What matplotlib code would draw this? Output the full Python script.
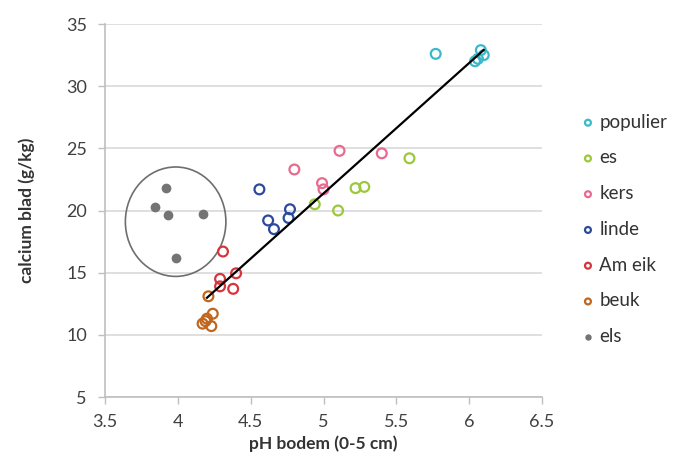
import matplotlib
matplotlib.use('Agg')
import matplotlib.pyplot as plt
from matplotlib.patches import Ellipse
import numpy as np

plt.rcParams['font.family'] = ['Lato', 'DejaVu Sans']

# pH bodem / calcium blad per boomsoort
populier_ph = [5.77, 6.04, 6.08, 6.10, 6.06]
populier_ca = [32.6, 32.0, 32.9, 32.5, 32.2]
es_ph = [5.59, 4.94, 5.10, 5.22, 5.28]
es_ca = [24.2, 20.5, 20.0, 21.8, 21.9]
kers_ph = [4.80, 5.11, 5.40, 4.99, 5.00]
kers_ca = [23.3, 24.8, 24.6, 22.2, 21.7]
linde_ph = [4.56, 4.62, 4.66, 4.77, 4.76]
linde_ca = [21.7, 19.2, 18.5, 20.1, 19.4]
ameik_ph = [4.31, 4.29, 4.29, 4.38, 4.40]
ameik_ca = [16.7, 14.5, 13.9, 13.7, 14.95]
beuk_ph = [4.21, 4.19, 4.17, 4.24, 4.23, 4.20]
beuk_ca = [13.1, 11.1, 10.9, 11.7, 10.7, 11.3]
els_ph = [3.92, 3.84, 3.93, 4.17, 3.99]
els_ca = [21.8, 20.3, 19.6, 19.7, 16.2]

groups = [
    ('populier', populier_ph, populier_ca, '#3cb9c9'),
    ('es', es_ph, es_ca, '#9cc83c'),
    ('kers', kers_ph, kers_ca, '#e96a90'),
    ('linde', linde_ph, linde_ca, '#2b4a9c'),
    ('Am eik', ameik_ph, ameik_ca, '#d8343c'),
    ('beuk', beuk_ph, beuk_ca, '#c0661f'),
]

fig = plt.figure(figsize=(6.83, 4.70), dpi=100)
ax = fig.add_axes([0.1537, 0.1553, 0.6399, 0.7936])

for name, xs, ys, col in groups:
    ax.scatter(xs, ys, s=50, facecolors='none', edgecolors=col,
               linewidths=1.6, label=name, zorder=3)
ax.scatter(els_ph, els_ca, s=36, color='#747474', label='els', zorder=3)

# trendlijn door alle soorten behalve els
all_x = np.concatenate([g[1] for g in groups])
all_y = np.concatenate([g[2] for g in groups])
a, b = np.polyfit(all_x, all_y, 1)
xl = np.array([min(beuk_ph) + 0.03, max(populier_ph)])
ax.plot(xl, a * xl + b, color='black', lw=1.6, zorder=4)

ell = Ellipse((3.985, 19.1), 0.69, 8.8, fill=False, edgecolor='#6e6e6e',
              lw=1.2, zorder=2)
ax.add_patch(ell)

ax.set_xlim(3.5, 6.5)
ax.set_ylim(5, 35)
ax.set_xticks(np.arange(3.5, 6.51, 0.5))
ax.set_xticklabels(['3.5', '4', '4.5', '5', '5.5', '6', '6.5'])
ax.set_yticks(np.arange(5, 36, 5))
ax.yaxis.grid(True, color='#d9d9d9', lw=1.2)
ax.set_axisbelow(True)
for s in ['top', 'right']:
    ax.spines[s].set_visible(False)
for s in ['left', 'bottom']:
    ax.spines[s].set_color('#bfbfbf')
    ax.spines[s].set_linewidth(1.2)
ax.tick_params(axis='both', colors='#bfbfbf', length=5, width=1.0,
               labelcolor='#404040', labelsize=13)
ax.tick_params(axis='x', pad=7)
ax.tick_params(axis='y', pad=8)

ax.set_xlabel('pH bodem (0-5 cm)', fontsize=12.5, fontweight='bold',
              color='#333333', labelpad=4)
ax.set_ylabel('calcium blad (g/kg)', fontsize=12.5, fontweight='bold',
              color='#333333', labelpad=22)

leg = ax.legend(loc='upper left', bbox_to_anchor=(1.045, 0.805), frameon=False,
                fontsize=13.5, labelspacing=1.0, handletextpad=0.1,
                markerscale=0.6, handlelength=1.0)
for t in leg.get_texts():
    t.set_color('#333333')

fig.savefig('out.png', dpi=100)
